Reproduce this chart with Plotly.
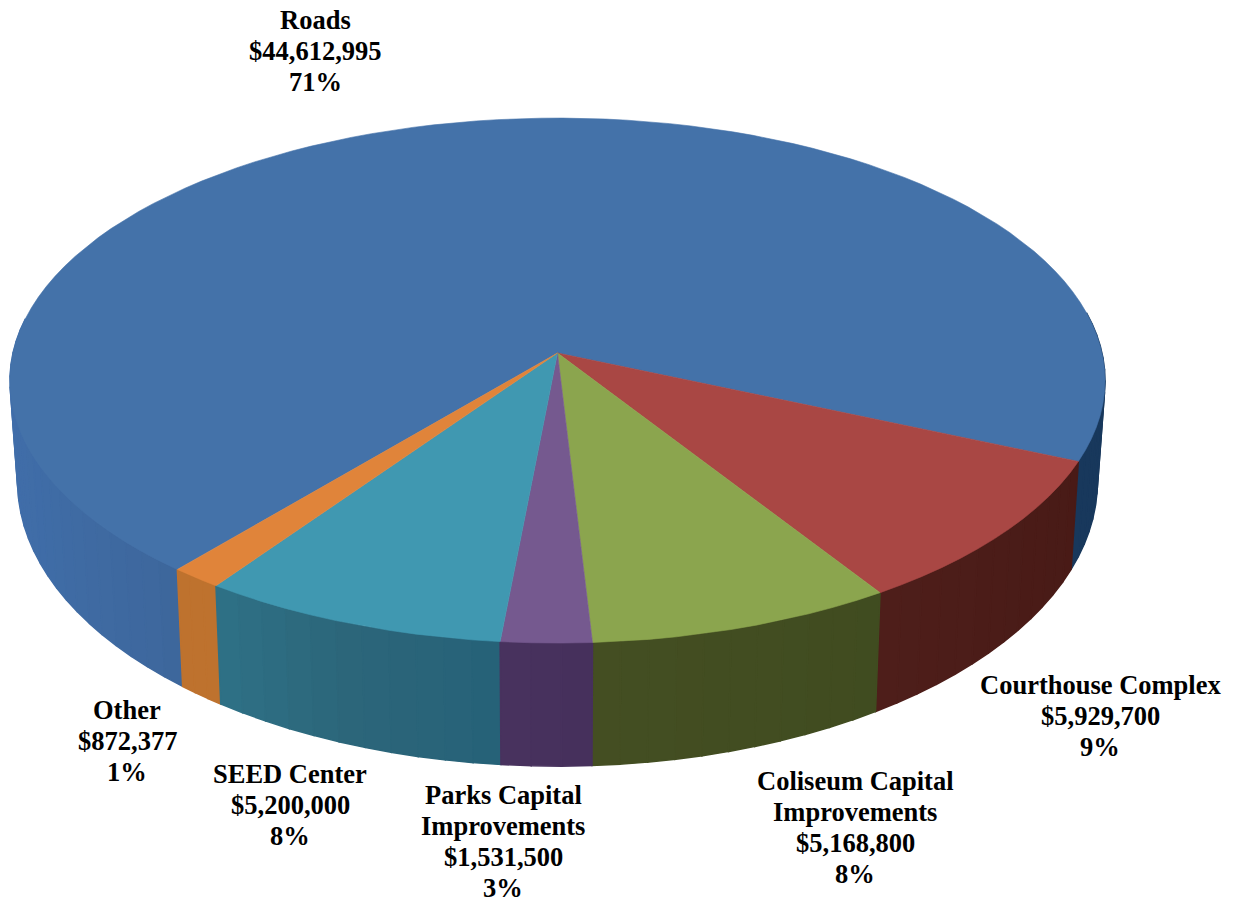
import numpy as np
import plotly.graph_objects as go

# Capital project budget, in slice order going clockwise
categories = ["Roads", "Courthouse Complex", "Coliseum Capital Improvements",
              "Parks Capital Improvements", "SEED Center", "Other"]
amounts = [44612995, 5929700, 5168800, 1531500, 5200000, 872377]
percent_labels = ["71%", "9%", "8%", "3%", "8%", "1%"]
label_name_lines = [["Roads"], ["Courthouse Complex"], ["Coliseum Capital", "Improvements"],
                    ["Parks Capital", "Improvements"], ["SEED Center"], ["Other"]]

# Slice styling: lid colour, and rim colour as (screen position, colour) stops
lid_colors = ["#4472a9", "#a94744", "#8ba54e", "#75598f", "#4098b1", "#e0843a"]
rim_stops = [
    [(-1.0, (64, 110, 170)), (-0.70, (62, 104, 158)), (0.9, (24, 56, 92)), (1.0, (24, 56, 92))],
    [(0.55, (78, 30, 26)), (0.95, (72, 26, 22))],
    [(0.05, (68, 78, 34)), (0.55, (64, 76, 32))],
    [(-0.1, (72, 50, 94)), (0.05, (70, 48, 92))],
    [(-0.68, (48, 118, 140)), (-0.35, (44, 102, 122)), (-0.1, (38, 98, 120))],
    [(-0.7, (196, 120, 50)), (-0.68, (190, 114, 46))],
]

# Label placement: centre x, and y of the first text line
label_x = [315, 1100, 855, 503, 290, 127]
label_y = [20, 685, 781, 795, 774, 710]
LINE_PITCH = 31

# Projection of the unit disc on to the page
CX, CY = 557.5, 353.0
RX, RY, K = 544.5, 259.6, 0.105
FIRST_SLICE_END_DEG = 23.6

# Lower rim of the cylinder relative to the lid
RIM_X_SCALE, RIM_Y_SCALE, RIM_DROP = 0.986, 1.083, 99.0


def lid_point(theta):
    u, v = np.cos(theta), np.sin(theta)
    w = 1 - K * v
    return CX + RX * u / w, CY + RY * v / w


def base_point(theta):
    x, y = lid_point(theta)
    return CX + RIM_X_SCALE * (x - CX), CY + RIM_DROP + RIM_Y_SCALE * (y - CY)


def rim_color(stops, u):
    positions = [s[0] for s in stops]
    rgb = [np.interp(u, positions, [s[1][i] for s in stops]) for i in range(3)]
    return "rgb(%d,%d,%d)" % tuple(int(round(c)) for c in rgb)


total = sum(amounts)
sweeps = [2 * np.pi * a / total for a in amounts]
start = np.radians(FIRST_SLICE_END_DEG) - sweeps[0]

fig = go.Figure()
lids = []
strips = []
for i, sweep in enumerate(sweeps):
    n = max(3, int(np.degrees(sweep) / 2.5))
    edge = np.linspace(start, start + sweep, n + 1)
    lx, ly = lid_point(edge)
    lids.append((i, [CX, *lx, CX], [CY, *ly, CY]))
    bx, by = base_point(edge)
    for j in range(n):
        mid = 0.5 * (edge[j] + edge[j + 1])
        if np.sin(mid) < -0.15:
            continue
        strips.append((np.sin(mid), i, mid,
                       [lx[j], lx[j + 1], bx[j + 1], bx[j], lx[j]],
                       [ly[j], ly[j + 1], by[j + 1], by[j], ly[j]]))
    start += sweep

# Far rim strips first so nearer ones overlap them, then the lid on top
for _, i, mid, xs, ys in sorted(strips, key=lambda s: s[0]):
    c = rim_color(rim_stops[i], np.cos(mid))
    fig.add_trace(go.Scatter(x=xs, y=ys, mode="lines", fill="toself", fillcolor=c,
                             line=dict(color=c, width=1.5), hoverinfo="skip", showlegend=False))

for i, xs, ys in lids:
    fig.add_trace(go.Scatter(x=xs, y=ys, mode="lines", fill="toself", fillcolor=lid_colors[i],
                             line=dict(color=lid_colors[i], width=0.6), name=categories[i],
                             hoverinfo="name", showlegend=False))

# Data labels, one annotation per text line to hold the line pitch
for i, name_lines in enumerate(label_name_lines):
    lines = name_lines + ["${:,}".format(amounts[i]), percent_labels[i]]
    for j, line in enumerate(lines):
        fig.add_annotation(x=label_x[i], y=label_y[i] + j * LINE_PITCH, text=line,
                           xref="x", yref="y", showarrow=False, xanchor="center", yanchor="middle",
                           borderpad=0,
                           font=dict(family="Liberation Serif", size=26.5, color="#000000", weight=700))

fig.update_layout(
    width=1235, height=903, margin=dict(l=0, r=0, t=0, b=0),
    paper_bgcolor="#ffffff", plot_bgcolor="#ffffff", showlegend=False,
    xaxis=dict(range=[0, 1235], visible=False, fixedrange=True),
    yaxis=dict(range=[903, 0], visible=False, fixedrange=True),
)
fig.write_html("out.html", config=dict(displayModeBar=False))
